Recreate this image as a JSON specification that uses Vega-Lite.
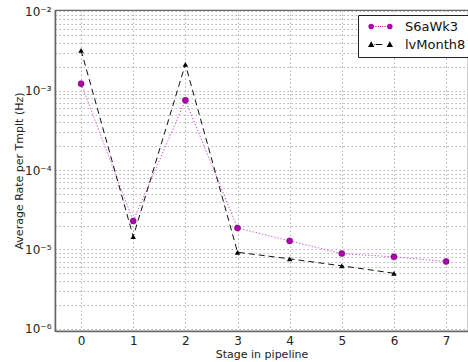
{
  "$schema": "https://vega.github.io/schema/vega-lite/v6.json",
  "width": 413,
  "height": 321,
  "autosize": {"type": "none"},
  "padding": {"left": 55, "top": 10, "right": 0, "bottom": 31},
  "config": {
    "font": "DejaVu Sans",
    "view": {"stroke": "#666", "strokeWidth": 1.2},
    "axis": {
      "gridColor": "#b5b5b5",
      "gridDash": [1.5, 2.5],
      "gridWidth": 1,
      "domainColor": "#666",
      "domainWidth": 1.5,
      "tickColor": "#666",
      "tickSize": 3,
      "labelColor": "#222",
      "labelFontSize": 12,
      "titleColor": "#222",
      "titleFontSize": 11,
      "titleFontWeight": "normal",
      "labelFlush": false,
      "labelOverlap": false
    }
  },
  "data": {
    "values": [
      {"stage": 0, "rate": 0.00123, "series": "S6aWk3"},
      {"stage": 1, "rate": 0.0000228, "series": "S6aWk3"},
      {"stage": 2, "rate": 0.00076, "series": "S6aWk3"},
      {"stage": 3, "rate": 0.0000186, "series": "S6aWk3"},
      {"stage": 4, "rate": 0.0000128, "series": "S6aWk3"},
      {"stage": 5, "rate": 0.00000885, "series": "S6aWk3"},
      {"stage": 6, "rate": 0.00000805, "series": "S6aWk3"},
      {"stage": 7, "rate": 0.00000703, "series": "S6aWk3"},
      {"stage": 0, "rate": 0.00324, "series": "lvMonth8"},
      {"stage": 1, "rate": 0.0000145, "series": "lvMonth8"},
      {"stage": 2, "rate": 0.00216, "series": "lvMonth8"},
      {"stage": 3, "rate": 0.0000092, "series": "lvMonth8"},
      {"stage": 4, "rate": 0.0000076, "series": "lvMonth8"},
      {"stage": 5, "rate": 0.0000062, "series": "lvMonth8"},
      {"stage": 6, "rate": 0.0000050, "series": "lvMonth8"}
    ]
  },
  "encoding": {
    "x": {
      "field": "stage",
      "type": "quantitative",
      "scale": {"domain": [-0.5, 7.42], "nice": false, "zero": false},
      "axis": {
        "title": "Stage in pipeline",
        "values": [0, 1, 2, 3, 4, 5, 6, 7],
        "format": "d",
        "labelPadding": 4,
        "titlePadding": 2,
        "ticks": false
      }
    },
    "y": {
      "field": "rate",
      "type": "quantitative",
      "scale": {"type": "log", "domain": [0.000000935, 0.01044], "nice": false},
      "axis": {
        "title": "Average Rate per Tmplt (Hz)",
        "values": [0.000001, 0.000002, 0.000003, 0.000004, 0.000005, 0.000006, 0.000007, 0.000008, 0.000009,
                   0.00001, 0.00002, 0.00003, 0.00004, 0.00005, 0.00006, 0.00007, 0.00008, 0.00009,
                   0.0001, 0.0002, 0.0003, 0.0004, 0.0005, 0.0006, 0.0007, 0.0008, 0.0009,
                   0.001, 0.002, 0.003, 0.004, 0.005, 0.006, 0.007, 0.008, 0.009, 0.01],
        "labelExpr": "abs(log(datum.value)/LN10 - round(log(datum.value)/LN10)) < 0.001 ? '10⁻' + ['⁰','¹','²','³','⁴','⁵','⁶','⁷'][-round(log(datum.value)/LN10)] : ''",
        "labelPadding": 4,
        "titlePadding": 0,
        "ticks": false
      }
    }
  },
  "layer": [
    {
      "transform": [{"filter": "datum.series === 'S6aWk3'"}],
      "mark": {"type": "line", "color": "#d040d0", "strokeWidth": 1, "strokeDash": [1.2, 2]}
    },
    {
      "transform": [{"filter": "datum.series === 'lvMonth8'"}],
      "mark": {"type": "line", "color": "#111", "strokeWidth": 1, "strokeDash": [6, 4]}
    },
    {
      "transform": [{"filter": "datum.series === 'S6aWk3'"}],
      "mark": {"type": "point", "shape": "circle", "filled": true, "fill": "#b000b0", "stroke": "#6a006a", "strokeWidth": 0.6, "size": 36, "opacity": 1}
    },
    {
      "transform": [{"filter": "datum.series === 'lvMonth8'"}],
      "mark": {"type": "point", "shape": "triangle-up", "filled": true, "fill": "#000", "size": 30, "opacity": 1}
    },
    {
      "mark": {"type": "point", "filled": true, "fillOpacity": 0, "strokeOpacity": 0},
      "encoding": {
        "color": {
          "field": "series",
          "type": "nominal",
          "scale": {"domain": ["S6aWk3", "lvMonth8"], "range": ["#b000b0", "#000000"]},
          "legend": {
            "title": null,
            "orient": "none",
            "legendX": 303,
            "legendY": 5,
            "strokeColor": "#222",
            "fillColor": "#ffffff",
            "padding": 5,
            "cornerRadius": 0,
            "symbolSize": 132,
            "symbolOpacity": 1,
            "symbolFillColor": "#000",
            "symbolStrokeWidth": 0,
            "symbolOffset": 11,
            "labelOffset": 18,
            "labelFontSize": 13,
            "labelColor": "#111",
            "rowPadding": 4
          }
        },
        "shape": {
          "field": "series",
          "type": "nominal",
          "scale": {
            "domain": ["S6aWk3", "lvMonth8"],
            "range": [
              "M -2.12,0 A 0.5,0.5 0 1,0 -1.12,0 A 0.5,0.5 0 1,0 -2.12,0 Z M 1.12,0 A 0.5,0.5 0 1,0 2.12,0 A 0.5,0.5 0 1,0 1.12,0 Z M -0.88,-0.09 h0.18 v0.18 h-0.18 Z M -0.44,-0.09 h0.18 v0.18 h-0.18 Z M -0.09,-0.09 h0.18 v0.18 h-0.18 Z M 0.26,-0.09 h0.18 v0.18 h-0.18 Z M 0.7,-0.09 h0.18 v0.18 h-0.18 Z",
              "M -2.17,0.45 L -1.62,-0.55 L -1.07,0.45 Z M 1.07,0.45 L 1.62,-0.55 L 2.17,0.45 Z M -0.85,-0.09 h1.15 v0.18 h-1.15 Z M -1.1,-0.09 h0.1 v0.18 h-0.1 Z"
            ]
          }
        }
      }
    }
  ]
}
